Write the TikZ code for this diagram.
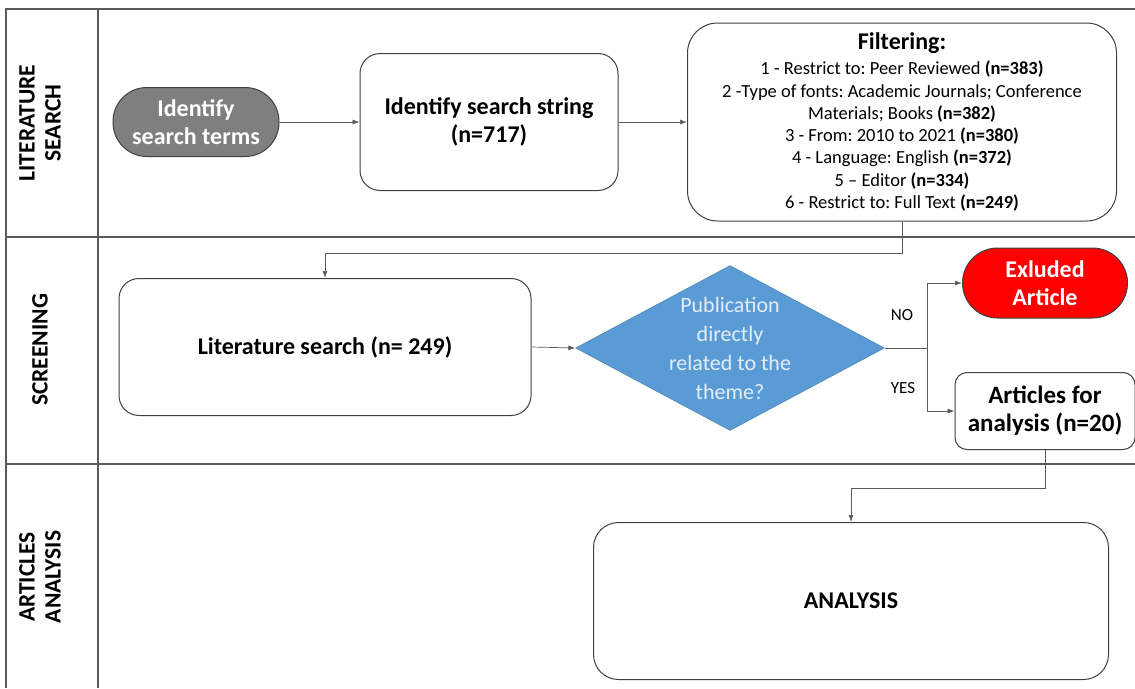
\documentclass[tikz,border=0pt]{standalone}
\usepackage{fontspec}
\setmainfont{Carlito}
\usetikzlibrary{shapes.geometric,arrows.meta}
\frenchspacing
\definecolor{edgec}{HTML}{404040}
\definecolor{linec}{HTML}{5A5A5A}
\definecolor{termgray}{HTML}{7F7F7F}
\definecolor{diablue}{HTML}{5B9BD5}
\definecolor{diatxt}{HTML}{E2EEF9}
\begin{document}
\begin{tikzpicture}[x=1pt,y=-1pt,
  lane/.style={draw=linec,line width=1.2pt},
  lanelabel/.style={rotate=90,font=\bfseries\fontsize{23.5}{26}\selectfont,align=center},
  box/.style={draw=edgec,line width=1pt,fill=white,align=center,font=\bfseries\fontsize{24}{28}\selectfont,inner sep=0pt},
  conn/.style={draw=linec,line width=0.7pt,-{Latex[length=7pt,width=5pt]}},
  yn/.style={font=\fontsize{17}{18}\selectfont}
]
\useasboundingbox (0,0) rectangle (1135,688);
% swimlane frame
\draw[lane] (1135,9) -- (6,9) -- (6,688);
\draw[lane] (98,9) -- (98,688);
\draw[lane] (6,237) -- (1135,237);
\draw[lane] (6,464) -- (1135,464);
\node[lanelabel] (l1) at (40,123) {LITERATURE\\SEARCH};
\node[lanelabel] (l2) at (40,350) {SCREENING};
\node[lanelabel] (l3) at (40,577) {ARTICLES\\ANALYSIS};

% nodes
\node[box,rounded corners=34pt,fill=termgray,text=white,minimum width=166,minimum height=69] (terms) at (196,122) {Identify\\search terms};
\node[box,rounded corners=20pt,minimum width=258,minimum height=137] (string) at (489,122) {Identify search string\\(n=717)};
\node[box,rounded corners=30pt,minimum width=429,minimum height=198,font=\fontsize{18.5}{22.3}\selectfont] (filter) at (902,122)
 {{\bfseries\fontsize{24}{24}\selectfont Filtering:}\\[3pt]
  1 - Restrict to: Peer Reviewed \textbf{(n=383)}\\
  2 -Type of fonts: Academic Journals; Conference\\
  Materials; Books \textbf{(n=382)}\\
  3 - From: 2010 to 2021 \textbf{(n=380)}\\
  4 - Language: English \textbf{(n=372)}\\
  5 -- Editor \textbf{(n=334)}\\
  6 - Restrict to: Full Text \textbf{(n=249)}};
\node[box,rounded corners=20pt,minimum width=412,minimum height=137] (lit) at (325,347) {Literature search (n= 249)};
\node[diamond,fill=diablue,draw=diablue!80!black,line width=0.4pt,minimum width=309,minimum height=165,inner sep=0pt] (dia) at (730,348) {};
\node[align=center,text=diatxt,font=\fontsize{22}{29}\selectfont] (diat) at (730,348) {Publication\\directly\\related to the\\theme?};
\node[box,rounded corners=35pt,fill=red,text=white,minimum width=165,minimum height=70] (excl) at (1045,283) {Exluded\\Article};
\node[box,rounded corners=12pt,minimum width=180,minimum height=77,font=\bfseries\fontsize{25}{28}\selectfont] (art) at (1045,411) {Articles for\\analysis (n=20)};
\node[box,rounded corners=25pt,minimum width=515,minimum height=157] (ana) at (851,601) {ANALYSIS};

% connectors
\draw[conn] (terms.east) -- (string.west);
\draw[conn] (string.east) -- (filter.west);
\draw[conn] (filter.south) -- (902,253) -| (lit.north);
\draw[conn] (lit.east) -- (dia.west);
\coordinate (split) at (927,348);
\draw[conn] (dia.east) -- (split) |- (excl.west);
\draw[conn] (split) |- (art.west);
\draw[conn] (art.south) -- (1045,488) -| (ana.north);
\node[yn] (no) at (902,315) {NO};
\node[yn] (yes) at (903,388) {YES};
\end{tikzpicture}
\end{document}
